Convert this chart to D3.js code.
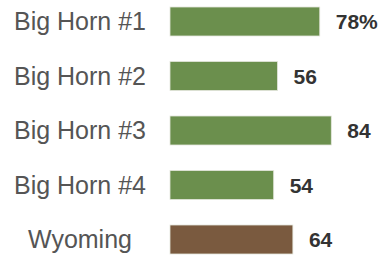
<!DOCTYPE html>
<html>
<head>
<meta charset="utf-8">
<script src="https://cdn.jsdelivr.net/npm/d3@7"></script>
<style>
  html, body { margin: 0; padding: 0; background: #fff; }
  svg { display: block; }
</style>
</head>
<body>
<svg id="chart" width="384" height="256"></svg>
<script>
// Data
var categories = ["Big Horn #1", "Big Horn #2", "Big Horn #3", "Big Horn #4", "Wyoming"];
var values = [78, 56, 84, 54, 64];
var barColors = ["#6b8f4d", "#6b8f4d", "#6b8f4d", "#6b8f4d", "#7a5a3f"];

var svg = d3.select("#chart");
var width = 384, height = 256;

var x = d3.scaleLinear()
    .domain([0, 100])
    .range([170, 362]);

var y = d3.scaleBand()
    .domain(categories)
    .range([7, 254])
    .paddingInner(0.468)
    .paddingOuter(0);

var rows = svg.selectAll("g.row")
    .data(categories)
    .enter().append("g")
    .attr("class", "row");

// bars
rows.append("rect")
    .attr("x", x(0))
    .attr("y", function(d) { return y(d); })
    .attr("width", function(d, i) { return x(values[i]) - x(0); })
    .attr("height", y.bandwidth())
    .attr("fill", function(d, i) { return barColors[i]; })
    .attr("stroke", "#e4e6dc")
    .attr("stroke-width", 0.8);

// category labels
rows.append("text")
    .attr("x", 80)
    .attr("y", function(d) { return y(d) + y.bandwidth() / 2; })
    .attr("dy", "0.35em")
    .attr("text-anchor", "middle")
    .attr("font-family", "Liberation Sans, Arial, sans-serif")
    .attr("font-size", 25)
    .attr("fill", "#555")
    .text(function(d) { return d; });

// value labels
rows.append("text")
    .attr("x", function(d, i) { return x(values[i]) + 16; })
    .attr("y", function(d) { return y(d) + y.bandwidth() / 2; })
    .attr("dy", "0.36em")
    .attr("font-family", "Liberation Sans, Arial, sans-serif")
    .attr("font-size", 21)
    .attr("font-weight", "bold")
    .attr("fill", "#333")
    .text(function(d, i) { return values[i] + (i == 0 ? "%" : ""); });
</script>
</body>
</html>
